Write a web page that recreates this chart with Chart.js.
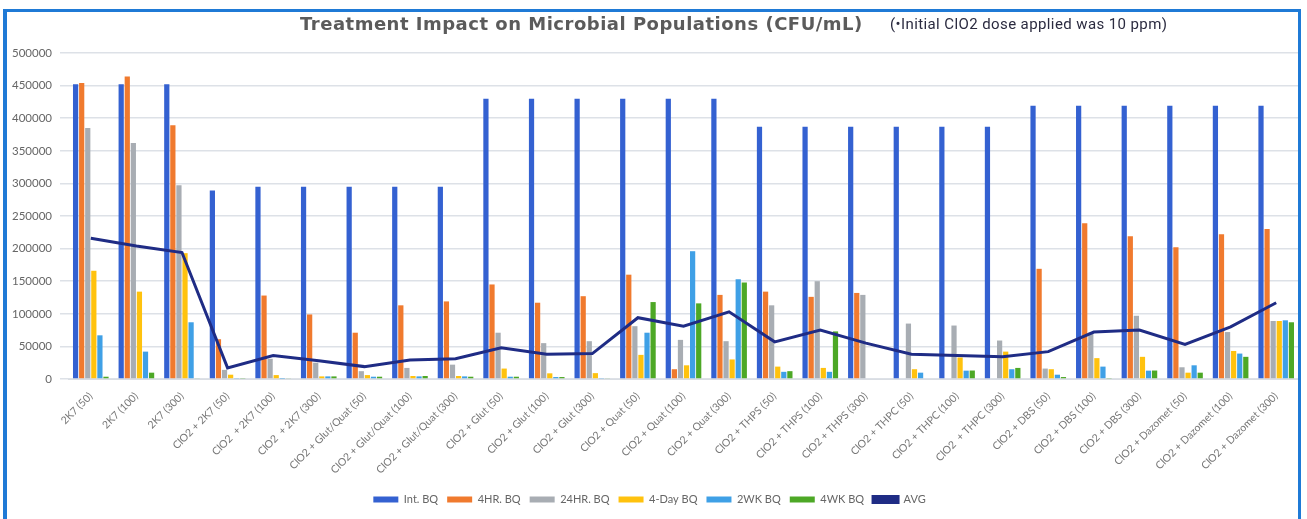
<!DOCTYPE html>
<html>
<head>
<meta charset="utf-8">
<script src="https://cdn.jsdelivr.net/npm/chart.js@4.4.1/dist/chart.umd.min.js"></script>
<style>
    html, body { margin: 0; padding: 0; background: #fff; }
    #wrap { position: relative; width: 1307px; height: 519px; overflow: hidden; }
    #frame {
        position: absolute; left: 3px; top: 9px; width: 1298px; height: 530px;
        border: 3px solid #1f7ad6; border-left-width: 4px; box-sizing: border-box;
    }
    #title {
        position: absolute; left: 300px; top: 13px;
        font: bold 18px "DejaVu Sans", sans-serif; letter-spacing: 0.5px;
        color: #5b5b5b; white-space: nowrap;
    }
    #subtitle {
        position: absolute; left: 890px; top: 15px;
        font: 15px Roboto, sans-serif; letter-spacing: 0.4px; color: #2b2b40; white-space: nowrap;
    }
    #chart { position: absolute; left: 0; top: 0; }
</style>
</head>
<body>
<div id="wrap">
    <canvas id="chart" width="1307" height="519"></canvas>
    <div id="frame"></div>
    <div id="title">Treatment Impact on Microbial Populations (CFU/mL)</div>
    <div id="subtitle">(•Initial ClO2 dose applied was 10 ppm)</div>
</div>

<script>
/* ---------- Data ---------- */
const categories = [
    "2K7 (50)", "2K7 (100)", "2K7 (300)",
    "ClO2 + 2K7 (50)", "ClO2  + 2K7 (100)", "ClO2  + 2K7 (300)",
    "ClO2 + Glut/Quat (50)", "ClO2 + Glut/Quat (100)", "ClO2 + Glut/Quat (300)",
    "ClO2 + Glut (50)", "ClO2 + Glut (100)", "ClO2 + Glut (300)",
    "ClO2 + Quat (50)", "ClO2 + Quat (100)", "ClO2 + Quat (300)",
    "ClO2 + THPS (50)", "ClO2 + THPS (100)", "ClO2 + THPS (300)",
    "ClO2 + THPC (50)", "ClO2 + THPC (100)", "ClO2  + THPC (300)",
    "ClO2 + DBS (50)", "ClO2 + DBS (100)", "ClO2 + DBS (300)",
    "ClO2 + Dazomet (50)", "ClO2 + Dazomet (100)", "ClO2 + Dazomet (300)"
];

const intBQ = [452000, 452000, 452000, 289000, 295000, 295000, 295000, 295000, 295000,
    430000, 430000, 430000, 430000, 430000, 430000, 387000, 387000, 387000,
    387000, 387000, 387000, 419000, 419000, 419000, 419000, 419000, 419000];

const hr4BQ = [454000, 464000, 389000, 61000, 128000, 99000, 71000, 113000, 119000,
    145000, 117000, 127000, 160000, 15000, 129000, 134000, 126000, 132000,
    0, 0, 0, 169000, 239000, 219000, 202000, 222000, 230000];

const hr24BQ = [385000, 362000, 297000, 14000, 31000, 25000, 12000, 17000, 22000,
    71000, 55000, 58000, 81000, 60000, 58000, 113000, 150000, 129000,
    85000, 82000, 59000, 16000, 71000, 97000, 18000, 72000, 89000];

const day4BQ = [166000, 134000, 193000, 6600, 6000, 4000, 6000, 4600, 4600,
    16000, 8700, 9000, 37000, 21000, 30000, 19000, 17000, 0,
    15000, 33000, 42000, 15000, 32000, 34000, 9700, 43000, 89000];

const wk2BQ = [67000, 42000, 87000, 1500, 500, 4000, 3500, 4000, 4000,
    3500, 3000, 1500, 71000, 196000, 153000, 11000, 11000, 0,
    9700, 12800, 15000, 6600, 19000, 12800, 21000, 39000, 90000];

const wk4BQ = [3500, 9700, 1000, 1500, 1000, 4000, 3500, 4600, 3500,
    3500, 3000, 1000, 118000, 116000, 148000, 12000, 73000, 0,
    0, 13000, 17000, 3000, 1500, 13000, 9700, 34000, 87000];

const avgLine = [216000, 204000, 194000, 17000, 36000, 28000, 19000, 29000, 31000,
    48000, 38000, 39000, 94000, 81000, 103000, 57000, 75000, 55000,
    38000, 36000, 34000, 42000, 72000, 75000, 53000, 80000, 117000];

const yTicks = [0, 50000, 100000, 150000, 200000, 250000, 300000, 350000, 400000, 450000, 500000];

/* ---------- Chart ---------- */
function bar(label, data, color) {
    return {
        type: "bar", label: label, data: data,
        backgroundColor: color, borderWidth: 0, order: 1,
        barPercentage: 0.86, categoryPercentage: 0.8
    };
}

const ctx = document.getElementById("chart");

new Chart(ctx, {
    data: {
        labels: categories,
        datasets: [
            bar("Int. BQ", intBQ, "#3461d1"),
            bar("4HR. BQ", hr4BQ, "#f07a2e"),
            bar("24HR. BQ", hr24BQ, "#a8adb3"),
            bar("4-Day BQ", day4BQ, "#ffc20e"),
            bar("2WK BQ", wk2BQ, "#3fa0e6"),
            bar("4WK BQ", wk4BQ, "#4da826"),
            {
                type: "line", label: "AVG", data: avgLine,
                borderColor: "#1f2c85", backgroundColor: "#1f2c85",
                borderWidth: 3, pointRadius: 0, tension: 0, order: 0
            }
        ]
    },
    options: {
        responsive: false,
        animation: false,
        layout: { padding: { left: 0, right: 8, top: 53, bottom: 4 } },
        plugins: {
            title: { display: false },
            tooltip: { enabled: false },
            legend: {
                position: "bottom",
                labels: {
                    boxWidth: 25, boxHeight: 6, padding: 9,
                    color: "#666", font: { family: "Lato", size: 11 },
                    sort: (a, b) => a.datasetIndex - b.datasetIndex
                }
            }
        },
        scales: {
            x: {
                grid: { display: false },
                border: { color: "#d9dde3" },
                ticks: {
                    autoSkip: false, maxRotation: 45, minRotation: 45,
                    color: "#777", font: { family: "Lato", size: 10.5 }
                },
                afterFit: s => { s.height = 106; }
            },
            y: {
                min: 0, max: 500000,
                afterBuildTicks: s => { s.ticks = yTicks.map(v => ({ value: v })); },
                grid: { color: "#dde1e7", lineWidth: 1.5 },
                border: { display: false },
                ticks: {
                    color: "#666", padding: 8,
                    font: { family: "Lato", size: 11.5 },
                    callback: v => String(v)
                },
                afterFit: s => { s.width = 68; }
            }
        }
    }
});
</script>
</body>
</html>
